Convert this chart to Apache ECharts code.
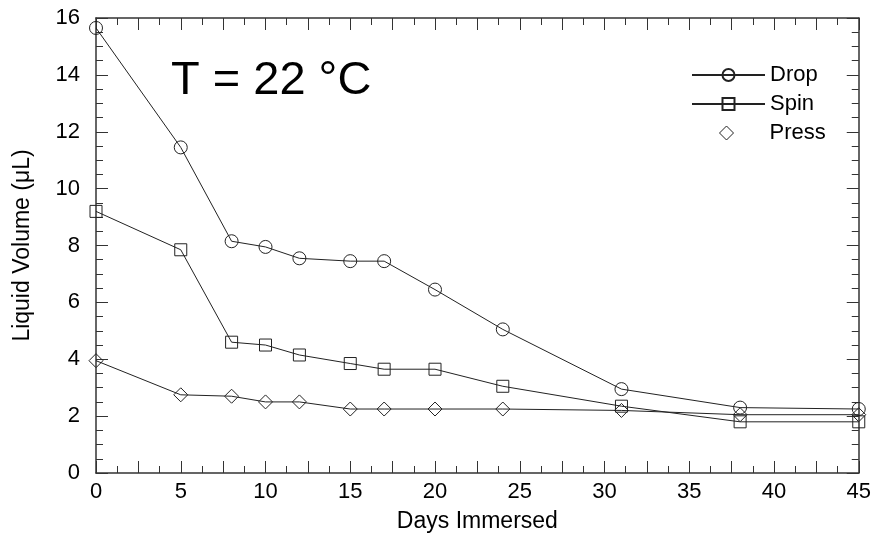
<!DOCTYPE html>
<html>
<head>
<meta charset="utf-8">
<script src="https://cdn.jsdelivr.net/npm/echarts@6/dist/echarts.min.js"></script>
<style>
  html, body { margin: 0; padding: 0; background: #fff; }
  #chart { width: 874px; height: 540px; }
</style>
</head>
<body>
<div id="chart"></div>
<script>
// Liquid volume retained over time for three loading methods at 22 °C
const days = [0, 5, 8, 10, 12, 15, 17, 20, 24, 31, 38, 45];
const drop = [15.65, 11.45, 8.15, 7.95, 7.55, 7.45, 7.45, 6.45, 5.05, 2.95, 2.3, 2.25];
const spin = [9.2, 7.85, 4.6, 4.5, 4.15, 3.85, 3.65, 3.65, 3.05, 2.35, 1.8, 1.8];
const press = [3.95, 2.75, 2.7, 2.5, 2.5, 2.25, 2.25, 2.25, 2.25, 2.2, 2.05, 2.05];
const seriesNames = ['Drop', 'Spin', 'Press'];

const FONT = '"Liberation Sans", Arial, sans-serif';
const INK = '#222';

function pairs(xs, ys) { return xs.map((x, i) => [x, ys[i]]); }

const hollow = { color: 'rgba(255,255,255,0)', borderColor: INK, borderWidth: 1 };

function makeSeries(name, values, symbol, size) {
  return {
    name: name,
    type: 'line',
    data: pairs(days, values),
    symbol: symbol,
    symbolSize: size,
    showAllSymbol: true,
    lineStyle: { color: INK, width: 1 },
    itemStyle: Object.assign({}, hollow),
    emphasis: { disabled: true },
    animation: false
  };
}

const chart = echarts.init(document.getElementById('chart'), null, { renderer: 'canvas' });

const axisLine = { show: true, onZero: false, lineStyle: { color: '#333', width: 1.5 } };
const tick = { inside: true, length: 12, lineStyle: { color: '#333' } };
const minor = (n) => ({ show: true, splitNumber: n, length: 7, lineStyle: { color: '#333' } });
const legendText = { fontFamily: FONT, fontSize: 22, color: '#000', lineHeight: 22 };
const axisNameText = { fontFamily: FONT, fontSize: 23, color: '#000' };

chart.setOption({
  backgroundColor: '#fff',
  animation: false,
  grid: { left: 96, right: 14, top: 18, bottom: 67, containLabel: false },
  legend: [{
    orient: 'vertical',
    left: 686,
    top: 59,
    itemWidth: 73,
    itemHeight: 15,
    itemGap: 7,
    textStyle: legendText,
    data: ['Drop', 'Spin'],
    selectedMode: false
  }, {
    orient: 'vertical',
    left: 714,
    top: 117,
    itemWidth: 14,
    itemHeight: 14,
    textStyle: Object.assign({ padding: [0, 0, 0, 31] }, legendText),
    data: [{ name: 'Press', icon: 'diamond', itemStyle: Object.assign({}, hollow) }],
    selectedMode: false
  }],
  graphic: [{
    type: 'text',
    left: 171,
    top: 58,
    style: { text: 'T = 22 °C', fontFamily: FONT, fontSize: 47, fill: '#000' }
  }],
  xAxis: [{
    type: 'value',
    min: 0, max: 45, interval: 2.5,
    name: 'Days Immersed',
    nameLocation: 'middle',
    nameGap: 37,
    nameTextStyle: axisNameText,
    axisLine: axisLine,
    axisTick: tick,
    minorTick: minor(2),
    splitLine: { show: false },
    axisLabel: {
      margin: 8,
      fontFamily: FONT, fontSize: 22, color: '#000',
      formatter: v => (Math.abs(v % 5) < 1e-9 ? String(v) : '')
    }
  }, {
    type: 'value', position: 'top',
    min: 0, max: 45, interval: 2.5,
    axisLine: axisLine,
    axisTick: tick,
    minorTick: minor(2),
    splitLine: { show: false },
    axisLabel: { show: false }
  }],
  yAxis: [{
    type: 'value',
    min: 0, max: 16, interval: 2,
    name: 'Liquid Volume (μL)',
    nameLocation: 'middle',
    nameGap: 62,
    nameTextStyle: axisNameText,
    axisLine: axisLine,
    axisTick: tick,
    minorTick: minor(4),
    splitLine: { show: false },
    axisLabel: { margin: 16, fontFamily: FONT, fontSize: 22, color: '#000' }
  }, {
    type: 'value', position: 'right',
    min: 0, max: 16, interval: 2,
    axisLine: axisLine,
    axisTick: tick,
    minorTick: minor(4),
    splitLine: { show: false },
    axisLabel: { show: false }
  }],
  series: [
    makeSeries(seriesNames[0], drop, 'circle', 13),
    makeSeries(seriesNames[1], spin, 'rect', 12),
    makeSeries(seriesNames[2], press, 'diamond', 14)
  ]
});
</script>
</body>
</html>
